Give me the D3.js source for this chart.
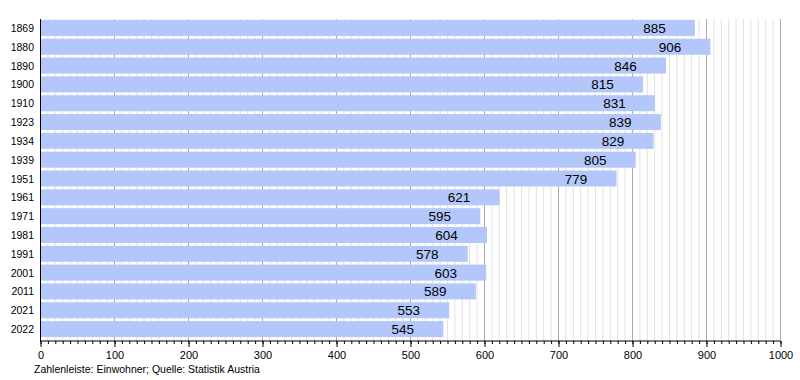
<!DOCTYPE html>
<html><head><meta charset="utf-8">
<script src="https://cdn.jsdelivr.net/npm/d3@7"></script>
<style>body{margin:0;background:#fff}svg{display:block}text{font-family:"Liberation Sans",Arial,sans-serif}</style>
</head><body>
<script>
const years = ["1869","1880","1890","1900","1910","1923","1934","1939","1951","1961","1971","1981","1991","2001","2011","2021","2022"];
const population = [885,906,846,815,831,839,829,805,779,621,595,604,578,603,589,553,545];
const majorTicks = [0,100,200,300,400,500,600,700,800,900,1000];
const footer = "Zahlenleiste: Einwohner; Quelle: Statistik Austria";

const W=800,H=380;
const svg=d3.select("body").append("svg").attr("width",W).attr("height",H);
const x=d3.scaleLinear().domain([0,1000]).range([40,780]);
const y=d3.scaleBand().domain(years).range([18.5,338.5]).paddingInner(0.15).paddingOuter(0.075);
const axisY=341, plotTop=19;

const minor=d3.range(10,1000,10).filter(v=>v%100!==0);
svg.append("g").selectAll("line").data(minor).join("line")
 .attr("x1",d=>x(d)+0.5).attr("x2",d=>x(d)+0.5).attr("y1",plotTop).attr("y2",axisY)
 .attr("stroke","#e2e2e2").attr("stroke-width",1);
svg.append("g").selectAll("line").data(majorTicks.filter(v=>v>0)).join("line")
 .attr("x1",d=>x(d)+0.5).attr("x2",d=>x(d)+0.5).attr("y1",plotTop).attr("y2",axisY)
 .attr("stroke","#aaaaaa").attr("stroke-width",1);

svg.append("g").selectAll("rect").data(years).join("rect")
 .attr("x",x(0)).attr("y",d=>y(d)).attr("height",y.bandwidth())
 .attr("width",(d,i)=>x(population[i])-x(0)).attr("fill","#b3c7fb");

svg.append("g").selectAll("text").data(years).join("text")
 .attr("x",(d,i)=>x(population[i])-40.5).attr("y",d=>y(d)+y.bandwidth()/2+5)
 .attr("text-anchor","middle").attr("font-size",13.5).attr("fill","#000")
 .text((d,i)=>population[i]);

svg.append("g").selectAll("text").data(years).join("text")
 .attr("x",34).attr("y",d=>y(d)+y.bandwidth()/2+4)
 .attr("text-anchor","end").attr("font-size",10.5).text(d=>d);

// axes
svg.append("line").attr("x1",40.5).attr("x2",40.5).attr("y1",plotTop).attr("y2",axisY+0.5).attr("stroke","#000");
const xAxis=d3.axisBottom(x).tickValues(d3.range(0,1001,10)).tickSize(3).tickFormat("");
const gx=svg.append("g").attr("transform",`translate(0.5,${axisY})`).call(xAxis);
gx.select(".domain").attr("d",`M${x(0)},0H${x(1000)}`).attr("stroke","#000");
gx.selectAll(".tick line").attr("stroke","#000");
const xAxisMaj=d3.axisBottom(x).tickValues(majorTicks).tickSize(6).tickPadding(4).tickFormat(d3.format("d"));
const gm=svg.append("g").attr("transform",`translate(0.5,${axisY})`).call(xAxisMaj);
gm.select(".domain").remove();
gm.selectAll(".tick line").attr("stroke","#000");
gm.selectAll(".tick text").attr("font-size",11).attr("font-family","Liberation Sans, Arial, sans-serif").attr("fill","#000");

svg.append("text").attr("x",34).attr("y",373).attr("font-size",10.5).text(footer);
</script>
</body></html>
